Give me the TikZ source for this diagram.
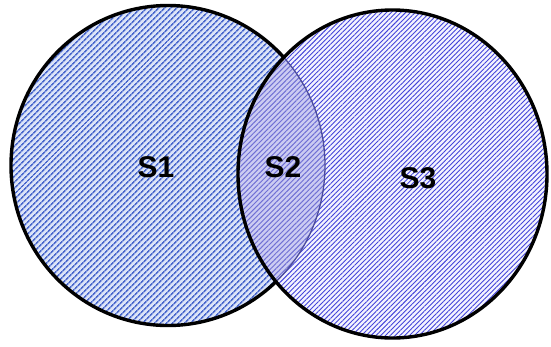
\documentclass[tikz,border=0pt]{standalone}
\usepackage{fontspec}
\setmainfont{Liberation Sans}
\usetikzlibrary{patterns.meta}
\definecolor{leftbg}{HTML}{DCE4F8}
\definecolor{leftln}{HTML}{4A68CC}
\definecolor{rightbg}{HTML}{F4F4FF}
\definecolor{rightln}{HTML}{4444DA}
\definecolor{midbg}{HTML}{CCCCF2}
\definecolor{midln}{HTML}{7070D4}
\tikzset{
  lbl/.style={font=\fontsize{30}{34}\selectfont\bfseries, text=black, inner sep=0pt},
  border/.style={draw=black, line width=3.4pt},
}
\begin{document}
\begin{tikzpicture}[x=1pt,y=-1pt]
\useasboundingbox (0,0) rectangle (551,346);
\def\lellipse{(168,165.5) ellipse [x radius=157pt, y radius=160pt]}
\def\rellipse{(392.5,174) ellipse [x radius=154.5pt, y radius=164pt]}
% left set
\fill[leftbg] \lellipse;
\fill[pattern={Lines[angle=45,distance=4pt,line width=1.7pt]}, pattern color=leftln] \lellipse;
\draw[border] \lellipse;
% right set
\begin{scope}
  \clip \rellipse;
  \fill[rightbg] \rellipse;
  \fill[pattern={Lines[angle=45,distance=3.4pt,line width=0.9pt]}, pattern color=rightln] \rellipse;
  % overlap
  \clip \lellipse;
  \fill[midbg] \rellipse;
  \fill[pattern={Lines[angle=45,distance=3.6pt,line width=1pt]}, pattern color=midln] \rellipse;
\end{scope}
\begin{scope}
  \clip \rellipse;
  \draw[draw=black!55!blue!70!white, line width=1.3pt] \lellipse;
\end{scope}
\draw[border] \rellipse;
% labels
\node[lbl] (s1) at (156,167) {S1};
\node[lbl] (s2) at (283,167) {S2};
\node[lbl] (s3) at (418,178) {S3};
\end{tikzpicture}
\end{document}
